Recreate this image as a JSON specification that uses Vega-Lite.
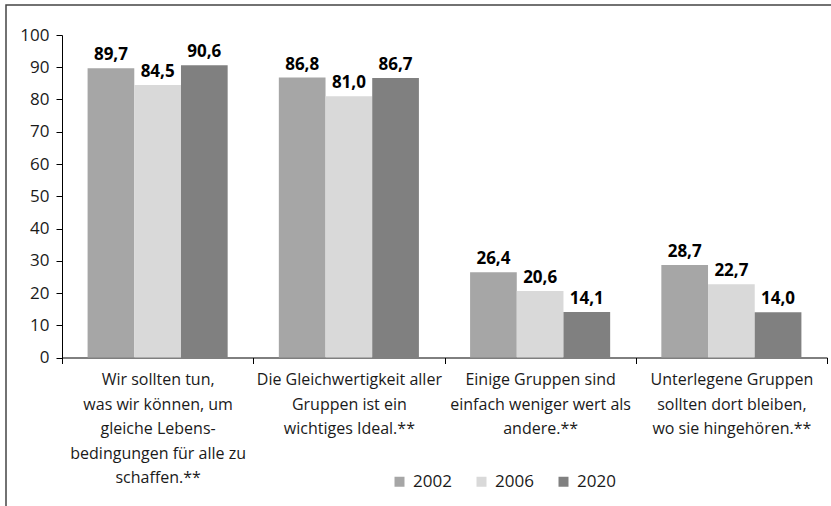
{
  "$schema": "https://vega.github.io/schema/vega-lite/v6.json",
  "width": 827,
  "height": 503,
  "autosize": {"type": "none"},
  "padding": {"left": 6, "top": 5, "right": 0, "bottom": 0},
  "background": "white",
  "config": {
    "font": "Open Sans",
    "view": {"stroke": "#444444", "strokeWidth": 1.5},
    "locale": {"number": {"decimal": ",", "thousands": ".", "grouping": [3], "currency": ["", " €"]}},
    "axis": {"grid": false, "domainColor": "#000000", "tickColor": "#000000", "labelColor": "#1a1a1a", "labelFont": "Open Sans"}
  },
  "data": {
    "values": [
      {"statement": "Wir sollten tun,|was wir können, um|gleiche Lebens-|bedingungen für alle zu|schaffen.**", "year": "2002", "value": 89.7},
      {"statement": "Wir sollten tun,|was wir können, um|gleiche Lebens-|bedingungen für alle zu|schaffen.**", "year": "2006", "value": 84.5},
      {"statement": "Wir sollten tun,|was wir können, um|gleiche Lebens-|bedingungen für alle zu|schaffen.**", "year": "2020", "value": 90.6},
      {"statement": "Die Gleichwertigkeit aller|Gruppen ist ein|wichtiges Ideal.**", "year": "2002", "value": 86.8},
      {"statement": "Die Gleichwertigkeit aller|Gruppen ist ein|wichtiges Ideal.**", "year": "2006", "value": 81.0},
      {"statement": "Die Gleichwertigkeit aller|Gruppen ist ein|wichtiges Ideal.**", "year": "2020", "value": 86.7},
      {"statement": "Einige Gruppen sind|einfach weniger wert als|andere.**", "year": "2002", "value": 26.4},
      {"statement": "Einige Gruppen sind|einfach weniger wert als|andere.**", "year": "2006", "value": 20.6},
      {"statement": "Einige Gruppen sind|einfach weniger wert als|andere.**", "year": "2020", "value": 14.1},
      {"statement": "Unterlegene Gruppen|sollten dort bleiben,|wo sie hingehören.**", "year": "2002", "value": 28.7},
      {"statement": "Unterlegene Gruppen|sollten dort bleiben,|wo sie hingehören.**", "year": "2006", "value": 22.7},
      {"statement": "Unterlegene Gruppen|sollten dort bleiben,|wo sie hingehören.**", "year": "2020", "value": 14.0}
    ]
  },
  "encoding": {
    "x": {
      "field": "statement",
      "type": "nominal",
      "sort": null,
      "scale": {"range": [56, 821], "paddingInner": 0, "paddingOuter": 0},
      "axis": {
        "title": null,
        "orient": "bottom",
        "offset": -150.5,
        "tickBand": "extent",
        "tickSize": 6,
        "labelAngle": 0,
        "labelPadding": 8,
        "labelFontSize": 16,
        "labelLineHeight": 24.5,
        "labelBaseline": "top",
        "labelLimit": 0,
        "labelExpr": "split(datum.label, '|')"
      }
    },
    "xOffset": {
      "field": "year",
      "type": "nominal",
      "scale": {"paddingInner": 0, "paddingOuter": 0.548}
    },
    "y": {
      "field": "value",
      "type": "quantitative",
      "scale": {"domain": [0, 100], "range": [352.5, 30], "nice": false},
      "axis": {
        "title": null,
        "orient": "left",
        "offset": -56,
        "values": [0, 10, 20, 30, 40, 50, 60, 70, 80, 90, 100],
        "tickSize": 6,
        "labelPadding": 7,
        "labelFontSize": 17
      }
    }
  },
  "layer": [
    {
      "mark": {"type": "bar"},
      "encoding": {
        "color": {
          "field": "year",
          "type": "nominal",
          "scale": {"domain": ["2002", "2006", "2020"], "range": ["#a6a6a6", "#d9d9d9", "#808080"]},
          "legend": {
            "title": null,
            "orient": "none",
            "legendX": 385,
            "legendY": 468,
            "direction": "horizontal",
            "symbolType": "square",
            "symbolSize": 100,
            "symbolStrokeWidth": 0,
            "labelFontSize": 17,
            "labelColor": "#1a1a1a",
            "labelOffset": 5,
            "columnPadding": 21
          }
        }
      }
    },
    {
      "mark": {"type": "text", "baseline": "alphabetic", "dy": -8, "fontWeight": "bold", "fontSize": 17, "color": "#000000"},
      "encoding": {
        "text": {"field": "value", "type": "quantitative", "format": ".1f"}
      }
    }
  ]
}
